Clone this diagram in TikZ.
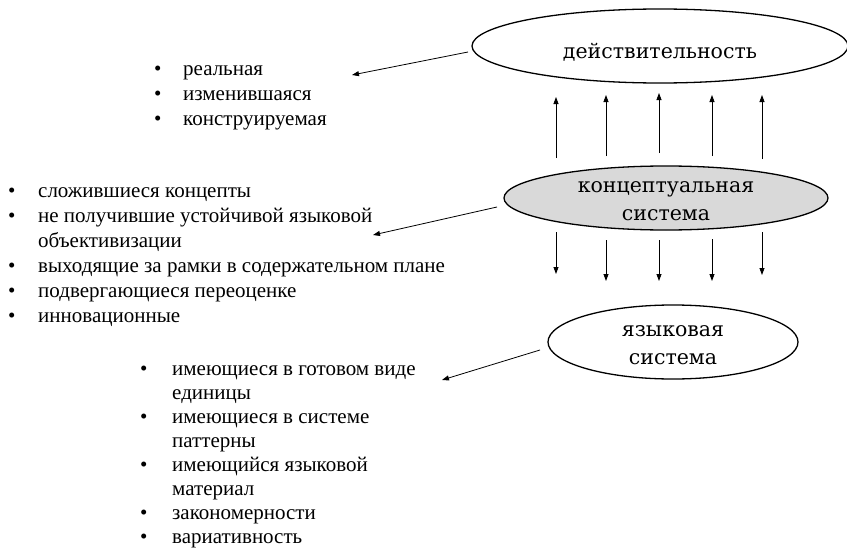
\documentclass[tikz,border=0pt]{standalone}
\usepackage{fontspec}
\setmainfont{Liberation Serif}
\newfontfamily\ellfont{DejaVu Serif}
\usetikzlibrary{shapes.geometric,arrows.meta}
\newcommand\bulitem[2]{\makebox[#1][l]{\textbullet}#2}
\newcommand\lowr[1]{\raisebox{-3pt}[\height][\depth]{#1}}
\begin{document}
\begin{tikzpicture}[x=1pt,y=-1pt,
  ell/.style={draw, line width=1.3pt, ellipse, inner sep=0pt, align=center,
    font=\ellfont\fontsize{20.5}{28}\selectfont},
  arr/.style={line width=0.8pt, -{Triangle[length=7pt,width=5pt]}},
  lst/.style={anchor=base west, inner sep=0pt, font=\fontsize{21}{25}\selectfont}]
\useasboundingbox (0,0) rectangle (847,554);

% ellipses
\node[ell, minimum width=376pt, minimum height=74pt] (real) at (660,46)
  {\raisebox{-6pt}[\height][\depth]{действительность}};
\node[ell, fill=black!15, minimum width=324pt, minimum height=64pt] (conc) at (666,198)
  {\lowr{концептуальная}\\\lowr{система}};
\node[ell, minimum width=250pt, minimum height=74pt] (lang) at (673,342)
  {\lowr{языковая}\\\lowr{система}};

% vertical arrows
\foreach \i/\x/\ya/\yb/\yc/\yd in {1/556/158/97/232/274, 2/606/156/95/240/281,
    3/659/153/93/240/281, 4/712/156/95/239/281, 5/762/159/95/232/275}{
  \coordinate (u\i s) at (\x,\ya);
  \coordinate (u\i e) at (\x,\yb);
  \coordinate (d\i s) at (\x,\yc);
  \coordinate (d\i e) at (\x,\yd);
  \draw[arr] (u\i s) -- (u\i e);
  \draw[arr] (d\i s) -- (d\i e);
}

% lists
\node[lst] (l1) at (154,75) {\parbox[t]{300pt}{\raggedright
  \bulitem{29pt}{реальная}\\
  \bulitem{29pt}{изменившаяся}\\
  \bulitem{29pt}{конструируемая}}};
\node[lst] (l2) at (8,197) {\parbox[t]{480pt}{\raggedright
  \bulitem{30pt}{сложившиеся концепты}\\
  \bulitem{30pt}{не получившие устойчивой языковой}\\
  \hspace*{30pt}объективизации\\
  \bulitem{30pt}{выходящие за рамки в содержательном плане}\\
  \bulitem{30pt}{подвергающиеся переоценке}\\
  \bulitem{30pt}{инновационные}}};
\node[lst, font=\fontsize{21}{24}\selectfont] (l3) at (140,375) {\parbox[t]{320pt}{\raggedright
  \bulitem{32pt}{имеющиеся в готовом виде}\\
  \hspace*{32pt}единицы\\
  \bulitem{32pt}{имеющиеся в системе}\\
  \hspace*{32pt}паттерны\\
  \bulitem{32pt}{имеющийся языковой}\\
  \hspace*{32pt}материал\\
  \bulitem{32pt}{закономерности}\\
  \bulitem{32pt}{вариативность}}};

% diagonal arrows
\coordinate (a1s) at (468,52);  \coordinate (a1e) at (352,75);
\coordinate (a2s) at (497,207); \coordinate (a2e) at (373,235);
\coordinate (a3s) at (540,350); \coordinate (a3e) at (442,380);
\draw[arr] (a1s) -- (a1e);
\draw[arr] (a2s) -- (a2e);
\draw[arr] (a3s) -- (a3e);
\end{tikzpicture}
\end{document}
